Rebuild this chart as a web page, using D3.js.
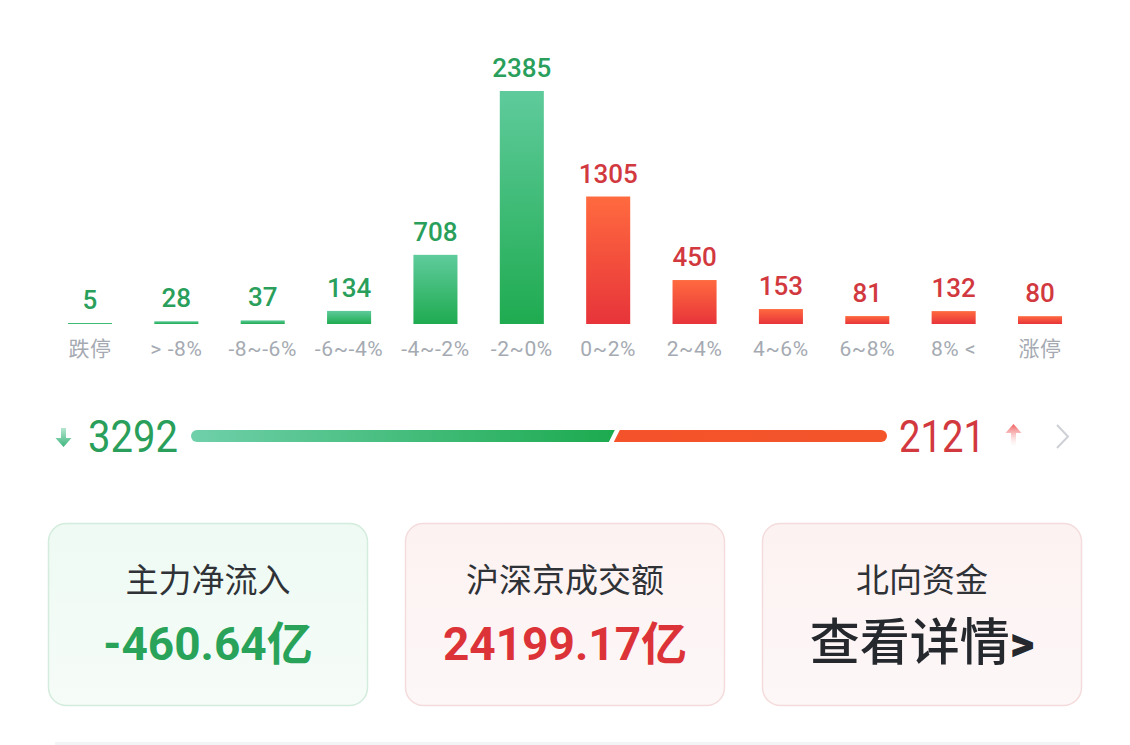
<!DOCTYPE html>
<html><head><meta charset="utf-8">
<script src="https://cdn.jsdelivr.net/npm/d3@7"></script>
<style>body{margin:0;background:#fff;} svg{display:block}</style>
</head><body>
<svg id="c" width="1130" height="745"></svg>
<script>
// ---- data ----
const categories = ["跌停", "> -8%", "-8~-6%", "-6~-4%", "-4~-2%", "-2~0%", "0~2%", "2~4%", "4~6%", "6~8%", "8% <", "涨停"];
const counts = [5, 28, 37, 134, 708, 2385, 1305, 450, 153, 81, 132, 80];
const directions = ["down", "down", "down", "down", "down", "down", "up", "up", "up", "up", "up", "up"];
const fallCount = 3292;
const riseCount = 2121;
const cardTitles = ["主力净流入", "沪深京成交额", "北向资金"];
const cardValues = ["-460.64亿", "24199.17亿", "查看详情>"];
const cardTones = ["down", "up", "neutral"];

// ---- styles ----
const GREEN_TXT = "#2a9f5b", RED_TXT = "#d2393f";
const svg = d3.select("#c");
const defs = svg.append("defs");
function lg(id, stops, vertical) {
  const g = defs.append("linearGradient").attr("id", id)
    .attr("x1", 0).attr("y1", 0).attr("x2", vertical ? 0 : 1).attr("y2", vertical ? 1 : 0);
  stops.forEach(s => g.append("stop").attr("offset", s[0]).attr("stop-color", s[1]).attr("stop-opacity", s[2] == null ? 1 : s[2]));
}
lg("gBar", [[0, "#5fcb9c"], [1, "#1fab50"]], true);
lg("rBar", [[0, "#ff6a3f"], [1, "#e7343a"]], true);
lg("gLine", [[0, "#6fd0aa"], [1, "#1caa4f"]], false);
lg("rLine", [[0, "#f4522a"], [1, "#f4552b"]], false);
lg("gArrow", [[0, "#b5e6cf"], [1, "#3fb67e"]], true);
lg("rArrow", [[0, "#ef5b5b"], [1, "#ffffff", 0.2]], true);
lg("gCard", [[0, "#eefaf3"], [1, "#f6fcf8"]], true);
lg("rCard", [[0, "#fdf2f2"], [1, "#fdf7f7"]], true);

const NUMF = "Roboto, 'Noto Sans CJK SC', sans-serif";

// ---- distribution bars ----
const x = d3.scaleBand().domain(categories).range([46.8, 1083.2]).paddingInner(0.49).paddingOuter(0.245);
const y = d3.scaleLinear().domain([0, d3.max(counts)]).range([324, 91]);
const rows = categories.map((c, i) => ({ c, v: counts[i], d: directions[i] }));

const g = svg.append("g");
g.selectAll("rect.bar").data(rows).join("rect").attr("class", "bar")
  .attr("x", d => x(d.c)).attr("width", x.bandwidth())
  .attr("y", d => Math.min(y(d.v), y(0) - 1))
  .attr("height", d => Math.max(1, y(0) - y(d.v)))
  .attr("fill", d => d.d === "down" ? "url(#gBar)" : "url(#rBar)");

g.selectAll("text.val").data(rows).join("text").attr("class", "val")
  .attr("x", d => x(d.c) + x.bandwidth() / 2)
  .attr("y", d => Math.min(y(d.v), y(0) - 1) - 14)
  .attr("text-anchor", "middle")
  .attr("font-family", NUMF).attr("font-size", 26).attr("font-weight", 500)
  .attr("fill", d => d.d === "down" ? GREEN_TXT : RED_TXT)
  .text(d => d.v);

g.selectAll("text.cat").data(rows).join("text").attr("class", "cat")
  .attr("x", d => x(d.c) + x.bandwidth() / 2)
  .attr("y", 356)
  .attr("text-anchor", "middle")
  .attr("font-family", NUMF).attr("font-size", 21).attr("letter-spacing", 0.6)
  .attr("fill", "#a5aab2")
  .text(d => d.c);

// ---- rise/fall ratio bar ----
const r = d3.scaleLinear().domain([0, fallCount + riseCount]).range([191, 887]);
const by = 430, bh = 12, sl = 3, gap = 2.5;
const split = r(fallCount);
const gr = svg.append("g");
gr.append("path").attr("fill", "url(#gLine)")
  .attr("d", `M${r(0) + bh / 2},${by} L${split - gap + sl},${by} L${split - gap - sl},${by + bh} L${r(0) + bh / 2},${by + bh} A${bh / 2},${bh / 2} 0 0 1 ${r(0) + bh / 2},${by} Z`);
gr.append("path").attr("fill", "url(#rLine)")
  .attr("d", `M${split + gap + sl},${by} L${r(fallCount + riseCount) - bh / 2},${by} A${bh / 2},${bh / 2} 0 0 1 ${r(fallCount + riseCount) - bh / 2},${by + bh} L${split + gap - sl},${by + bh} Z`);

gr.append("text").attr("x", 88).attr("y", 452)
  .attr("font-family", "Roboto, sans-serif").attr("textLength", 90).attr("lengthAdjust", "spacingAndGlyphs")
  .attr("font-size", 45).attr("fill", GREEN_TXT).text(fallCount);
gr.append("text").attr("x", 899).attr("y", 452)
  .attr("font-family", "Roboto, sans-serif").attr("textLength", 86).attr("lengthAdjust", "spacingAndGlyphs")
  .attr("font-size", 45).attr("fill", RED_TXT).text(riseCount);

// down arrow
gr.append("path").attr("fill", "url(#gArrow)")
  .attr("d", "M61,428 L66,428 L66,438 L71.5,438 L63.5,447 L55.5,438 L61,438 Z");
// up arrow
gr.append("path").attr("fill", "url(#rArrow)")
  .attr("d", "M1013.5,424 L1021.5,433 L1016,433 L1016,447 L1011,447 L1011,433 L1005.5,433 Z");
// chevron
gr.append("path").attr("fill", "none").attr("stroke", "#cdd0d5").attr("stroke-width", 2)
  .attr("d", "M1057,425 L1068,436.5 L1057,448");

// ---- cards ----
const cx = d3.scaleBand().domain(cardTitles).range([48, 1082]).paddingInner(0.1036).paddingOuter(0);
const cards = cardTitles.map((t, i) => ({ t, v: cardValues[i], tone: cardTones[i] }));
const cg = svg.append("g").selectAll("g").data(cards).join("g")
  .attr("transform", d => `translate(${cx(d.t)},523)`);
cg.append("rect").attr("x", 0.5).attr("y", 0.5)
  .attr("width", cx.bandwidth() - 1).attr("height", 182).attr("rx", 18)
  .attr("fill", d => d.tone === "down" ? "url(#gCard)" : "url(#rCard)")
  .attr("stroke", d => d.tone === "down" ? "#d3ecdd" : "#f4dcdc").attr("stroke-width", 1.5);
cg.append("text").attr("x", cx.bandwidth() / 2).attr("y", 69).attr("text-anchor", "middle")
  .attr("font-family", "'Noto Sans CJK SC', sans-serif").attr("font-size", 33)
  .attr("fill", "#2f3236").text(d => d.t);
const vt = cg.append("text").attr("x", cx.bandwidth() / 2).attr("y", 137).attr("text-anchor", "middle")
  .attr("font-family", d => d.tone === "neutral" ? "'Noto Sans CJK SC', sans-serif" : NUMF)
  .attr("font-size", d => d.tone === "neutral" ? 50 : 46)
  .attr("font-weight", d => d.tone === "neutral" ? 500 : 700)
  .attr("fill", d => d.tone === "down" ? "#2aa35a" : d.tone === "up" ? "#dc3339" : "#25292e");
vt.each(function (d) {
  const t = d3.select(this);
  if (d.tone === "neutral" && d.v.endsWith(">")) {
    t.append("tspan").text(d.v.slice(0, -1));
    t.append("tspan").attr("font-weight", 900).attr("font-family", "Roboto, sans-serif").attr("font-size", 48).text(">");
  } else {
    t.text(d.v);
  }
});

// faint bottom divider
svg.append("rect").attr("x", 55).attr("y", 742).attr("width", 1025).attr("height", 3).attr("fill", "#f3f4f6");
</script>
</body></html>
